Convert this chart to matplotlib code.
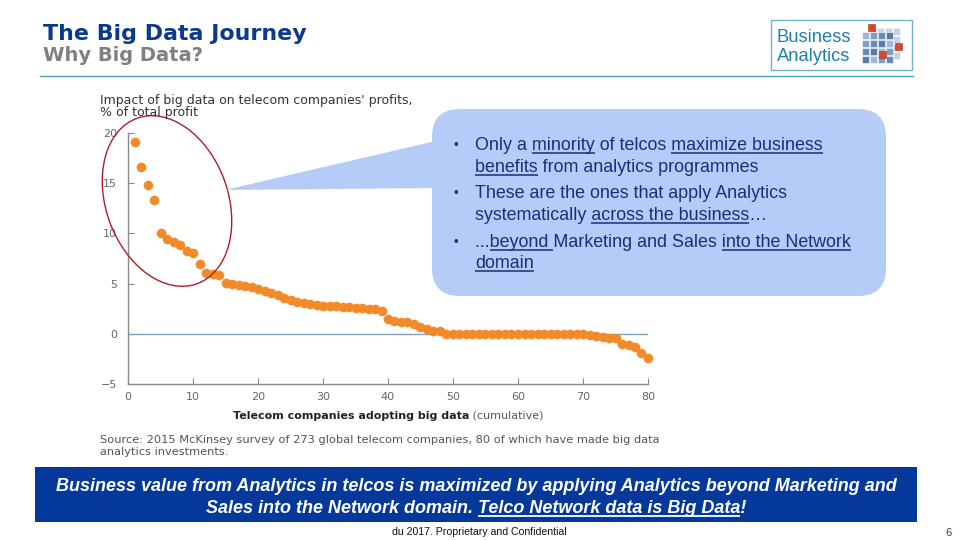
import matplotlib
matplotlib.use('Agg')
import matplotlib.pyplot as plt
from matplotlib.patches import Rectangle, FancyBboxPatch, Polygon, Ellipse

# ---------------- data ----------------
companies = list(range(1, 81))
profit_impact = [19.1, 16.6, 14.8, 13.3, 10.0, 9.4, 9.1, 8.8, 8.2, 8.0,
                 7.0, 6.1, 6.0, 5.9, 5.1, 5.0, 4.9, 4.8, 4.7, 4.5,
                 4.3, 4.1, 3.9, 3.6, 3.4, 3.2, 3.1, 3.0, 2.9, 2.8,
                 2.8, 2.8, 2.7, 2.7, 2.6, 2.6, 2.5, 2.5, 2.3, 1.5,
                 1.3, 1.2, 1.2, 1.0, 0.7, 0.5, 0.3, 0.3, 0.0, 0.0,
                 0.0, 0.0, 0.0, 0.0, 0.0, 0.0, 0.0, 0.0, 0.0, 0.0,
                 0.0, 0.0, 0.0, 0.0, 0.0, 0.0, 0.0, 0.0, 0.0, 0.0,
                 -0.1, -0.2, -0.3, -0.4, -0.4, -1.0, -1.1, -1.3, -1.9, -2.4]
x_ticks = [0, 10, 20, 30, 40, 50, 60, 70, 80]
y_ticks = [-5, 0, 5, 10, 15, 20]

title = "The Big Data Journey"
subtitle = "Why Big Data?"
chart_title = ["Impact of big data on telecom companies' profits,", "% of total profit"]
xlabel_bold = "Telecom companies adopting big data"
xlabel_norm = " (cumulative)"
source = ["Source: 2015 McKinsey survey of 273 global telecom companies, 80 of which have made big data",
          "analytics investments."]
bullets = [
    [("Only a ", 0), ("minority", 1), (" of telcos ", 0), ("maximize business", 1)],
    [("benefits", 1), (" from analytics programmes", 0)],
    [("These are the ones that apply Analytics", 0)],
    [("systematically ", 0), ("across the business", 1), ("\u2026", 0)],
    [("...", 0), ("beyond ", 1), ("Marketing and Sales ", 0), ("into the Network", 1)],
    [("domain", 1)],
]
banner = [
    [("Business value from Analytics in telcos is maximized by applying Analytics beyond Marketing and", 0)],
    [("Sales into the Network domain. ", 0), ("Telco Network data is Big Data", 1), ("!", 0)],
]
footer = "du 2017. Proprietary and Confidential"

# ---------------- figure ----------------
fig = plt.figure(figsize=(9.6, 5.4), dpi=100)
fig.patch.set_facecolor('white')

ov = fig.add_axes([0, 0, 1, 1], zorder=2)
ov.set_xlim(0, 960)
ov.set_ylim(540, 0)
ov.axis('off')
ov.patch.set_visible(False)

renderer = fig.canvas.get_renderer()
SANS = ['Liberation Sans', 'DejaVu Sans']
WIDE = ['DejaVu Sans']


def measure(s, **kw):
    t = ov.text(0, 0, s, **kw)
    w = t.get_window_extent(renderer).width
    t.remove()
    return w


def fit(s, target, **kw):
    return 10.0 * target / measure(s, fontsize=10, **kw)


def pw(s, **kw):
    if not s:
        return 0.0
    return measure(s + 'H', **kw) - measure('H', **kw)


def draw_segments(x0, y, segs, color, ul_color=None, ul_off=2.5, ul_lw=1.0, center=None, **kw):
    full = ''.join(s for s, _ in segs)
    if center is not None:
        x0 = center - pw(full, **kw) / 2
    ov.text(x0, y, full, ha='left', va='baseline', color=color, **kw)
    pos = 0
    for s, ul in segs:
        if ul:
            xs = x0 + pw(full[:pos], **kw)
            xe = x0 + pw(full[:pos + len(s)], **kw)
            ov.plot([xs, xe], [y + ul_off, y + ul_off], color=ul_color or color, lw=ul_lw,
                    solid_capstyle='butt')
        pos += len(s)


# ---------------- header ----------------
fs_t = fit(title, 264, family='DejaVu Sans', fontweight='bold')
ov.text(43, 40, title, family='DejaVu Sans', fontweight='bold', fontsize=fs_t,
        color='#0b3a8c', ha='left', va='baseline')
fs_s = fit(subtitle, 160, family='DejaVu Sans', fontweight='bold')
ov.text(43, 61, subtitle, family='DejaVu Sans', fontweight='bold', fontsize=fs_s,
        color='#808080', ha='left', va='baseline')
ov.plot([40, 913], [76, 76], color='#4ba3b8', lw=1.0)

# logo box
ov.add_patch(Rectangle((771, 20), 141, 50, facecolor='white', edgecolor='#6fb3c8', lw=1.0))
fs_l = fit("Analytics", 74, family=SANS)
ov.text(777, 42, "Business", family=SANS, fontsize=fs_l, color='#1f80b0', ha='left', va='baseline')
ov.text(777, 61, "Analytics", family=SANS, fontsize=fs_l, color='#1f80b0', ha='left', va='baseline')
# cube icon
blues = ['#9fb8d6', '#7f9ec4', '#6a8bb5', '#5a7ca8']
for r in range(4):
    for c in range(4):
        ov.add_patch(Rectangle((866 + c * 8 + 3, 28 + r * 8), 7, 7, facecolor='#c5d3e6', edgecolor='white', lw=0.4))
for r in range(4):
    for c in range(4):
        ov.add_patch(Rectangle((862 + c * 8, 32 + r * 8), 7, 7, facecolor=blues[(r + c) % 4], edgecolor='white', lw=0.4))
for (rx, ry) in [(868, 24), (895, 43), (879, 51)]:
    ov.add_patch(Rectangle((rx, ry), 7, 7, facecolor='#d9482b', edgecolor='#a8321c', lw=0.4))

# ---------------- chart ----------------
ax = fig.add_axes([128 / 960, 1 - 384 / 540, 520 / 960, 251 / 540], zorder=1)
ax.axhline(0, color='#7fa3b9', lw=1.0, zorder=2)
ax.scatter(companies, profit_impact, s=44, color='#f28a2a', edgecolors='#f28a2a',
           linewidths=0.3, zorder=3, clip_on=False)
ax.set_xlim(0, 80)
ax.set_ylim(-5, 20)
ax.set_xticks(x_ticks)
ax.set_yticks(y_ticks)
for sp in ['top', 'right']:
    ax.spines[sp].set_visible(False)
for sp in ['left', 'bottom']:
    ax.spines[sp].set_color('#8a8a8a')
    ax.spines[sp].set_linewidth(1.0)
ax.tick_params(direction='in', length=4, color='#8a8a8a', labelcolor='#666666', labelsize=8)
ax.tick_params(axis='y', pad=8)
ax.tick_params(axis='x', pad=6)
for lab in ax.get_xticklabels() + ax.get_yticklabels():
    lab.set_family(WIDE)
ax.patch.set_visible(False)

# chart texts
fs_ct = fit(chart_title[0], 313, family=WIDE)
ov.text(100, 104, chart_title[0], family=WIDE, fontsize=fs_ct, color='#333333', ha='left', va='baseline')
ov.text(100, 116, chart_title[1], family=WIDE, fontsize=fs_ct, color='#333333', ha='left', va='baseline')

wb = measure(xlabel_bold, fontsize=10, family=WIDE, fontweight='bold')
wn = measure(xlabel_norm, fontsize=10, family=WIDE)
fs_x = 10 * 312 / (wb + wn)
wb2 = pw(xlabel_bold, fontsize=fs_x, family=WIDE, fontweight='bold')
ov.text(233, 419, xlabel_bold, family=WIDE, fontweight='bold', fontsize=fs_x, color='#222222',
        ha='left', va='baseline')
ov.text(233 + wb2, 419, xlabel_norm, family=WIDE, fontsize=fs_x, color='#555555',
        ha='left', va='baseline')

fs_src = fit(source[0], 560, family=WIDE)
ov.text(100, 443, source[0], family=WIDE, fontsize=fs_src, color='#555555', ha='left', va='baseline')
ov.text(100, 455, source[1], family=WIDE, fontsize=fs_src, color='#555555', ha='left', va='baseline')

# ellipse highlight
ov.add_patch(Ellipse((167, 201), 122, 176, angle=-20, fill=False, edgecolor='#b01c2e', lw=1.0))

# ---------------- callout ----------------
box_col = '#b4ccf7'
ov.add_patch(Polygon([(225, 190), (440, 140), (440, 188)], closed=True, facecolor=box_col, edgecolor='none'))
ov.add_patch(FancyBboxPatch((432, 109), 454, 187, boxstyle='round,pad=0,rounding_size=28',
                            facecolor=box_col, edgecolor='none'))

fs_b = fit(''.join(s for s, _ in bullets[0]), 349, family=SANS)
txt_col = '#17307a'
baselines = [150, 172, 198, 220, 247, 268]
for segs, yb in zip(bullets, baselines):
    draw_segments(475, yb, segs, txt_col, ul_off=2.5, ul_lw=1.1, family=SANS, fontsize=fs_b)
for yb in [baselines[0], baselines[2], baselines[4]]:
    ov.text(453, yb - 1, '\u2022', family=SANS, fontsize=fs_b * 0.75, color=txt_col,
            ha='left', va='baseline')

# ---------------- banner ----------------
ov.add_patch(Rectangle((35, 467), 882, 55, facecolor='#04399b', edgecolor='none'))
bkw = dict(family=SANS, fontweight='bold', fontstyle='italic')
fs_bn = fit(banner[0][0][0], 841, **bkw)
draw_segments(0, 491, banner[0], 'white', center=476, fontsize=fs_bn, **bkw)
draw_segments(0, 513, banner[1], 'white', center=476, ul_off=2.5, ul_lw=1.3, fontsize=fs_bn, **bkw)

# ---------------- footer ----------------
fs_f = fit(footer, 174, family=SANS)
ov.text(392, 535, footer, family=SANS, fontsize=fs_f, color='#111111', ha='left', va='baseline')
ov.text(952, 536, '6', family=SANS, fontsize=8, color='#1f3f8f', ha='right', va='baseline')

fig.savefig('out.png', dpi=100)
